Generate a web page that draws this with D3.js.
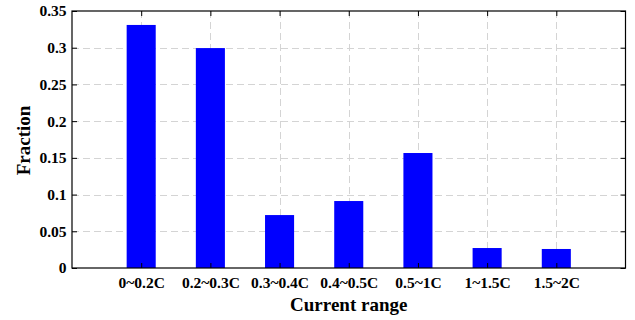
<!DOCTYPE html>
<html><head><meta charset="utf-8">
<script src="https://cdn.jsdelivr.net/npm/d3@7/dist/d3.min.js"></script>
<style>body{margin:0;background:#fff}svg{display:block}</style>
</head><body>
<svg id="c" width="635" height="320"></svg>
<script>
const categories = ["0~0.2C","0.2~0.3C","0.3~0.4C","0.4~0.5C","0.5~1C","1~1.5C","1.5~2C"];
const fractions = [0.331, 0.2995, 0.0721, 0.0912, 0.1566, 0.0272, 0.0259];
const yTicks = [0, 0.05, 0.1, 0.15, 0.2, 0.25, 0.3, 0.35];
const yTickLabels = ["0","0.05","0.1","0.15","0.2","0.25","0.3","0.35"];

const svg = d3.select("#c");
const L = 72, R = 625.5, T = 11, B = 268;
const x = d3.scaleLinear().domain([0, categories.length + 1]).range([L, R]);
const y = d3.scaleLinear().domain([0, 0.35]).range([B, T]);
const font = "'Liberation Serif','Times New Roman',serif";
const bw = (x(1) - x(0)) * 0.42;
const idx = categories.map((d, i) => i + 1);

// grid
const g = svg.append("g").attr("stroke", "#d4d4d4").attr("stroke-width", 1).attr("stroke-dasharray", "7,4");
g.selectAll("line.h").data(yTicks.slice(1, -1)).join("line")
  .attr("x1", L).attr("x2", R).attr("y1", d => Math.round(y(d)) + 0.5).attr("y2", d => Math.round(y(d)) + 0.5);
g.selectAll("line.v").data(idx).join("line")
  .attr("y1", T).attr("y2", B).attr("x1", d => Math.round(x(d)) + 0.5).attr("x2", d => Math.round(x(d)) + 0.5);

// bars
svg.append("g").selectAll("rect").data(fractions).join("rect")
  .attr("x", (d, i) => x(i + 1) - bw / 2)
  .attr("width", bw)
  .attr("y", d => y(d))
  .attr("height", d => B - y(d))
  .attr("fill", "#0000ff");

// axes
const yAxis = d3.axisLeft(y).tickValues(yTicks).tickFormat((d, i) => yTickLabels[i]).tickSizeInner(-5).tickSizeOuter(0).tickPadding(5.5);
const yAxisR = d3.axisRight(y).tickValues(yTicks).tickFormat("").tickSizeInner(-5).tickSizeOuter(0);
const xAxis = d3.axisBottom(x).tickValues(idx).tickFormat((d, i) => categories[i]).tickSizeInner(-5).tickSizeOuter(0).tickPadding(8.5);
const xAxisT = d3.axisTop(x).tickValues(idx).tickFormat("").tickSizeInner(-5).tickSizeOuter(0);

function style(sel) {
  sel.attr("font-family", font).attr("font-size", 15.5);
  sel.select(".domain").remove();
  sel.selectAll("line").attr("stroke", "#000");
  sel.selectAll("text").attr("font-family", font).attr("font-weight", "bold").attr("font-size", 15.5).attr("fill", "#000");
}
svg.append("g").attr("transform", `translate(${L},0)`).call(yAxis).call(style);
svg.append("g").attr("transform", `translate(${R},0)`).call(yAxisR).call(style);
svg.append("g").attr("transform", `translate(0,${B})`).call(xAxis).call(style);
svg.append("g").attr("transform", `translate(0,${T})`).call(xAxisT).call(style);

// box
svg.append("rect").attr("x", L).attr("y", T).attr("width", R - L).attr("height", B - T)
  .attr("fill", "none").attr("stroke", "#000").attr("stroke-width", 1.2);

// labels
svg.append("text").attr("x", (L + R) / 2).attr("y", 311).attr("text-anchor", "middle")
  .attr("font-family", font).attr("font-weight", "bold").attr("font-size", 19).text("Current range");
svg.append("text").attr("transform", `translate(29.5,${(T + B) / 2 + 1}) rotate(-90)`).attr("text-anchor", "middle")
  .attr("font-family", font).attr("font-weight", "bold").attr("font-size", 19).text("Fraction");
</script>
</body></html>
